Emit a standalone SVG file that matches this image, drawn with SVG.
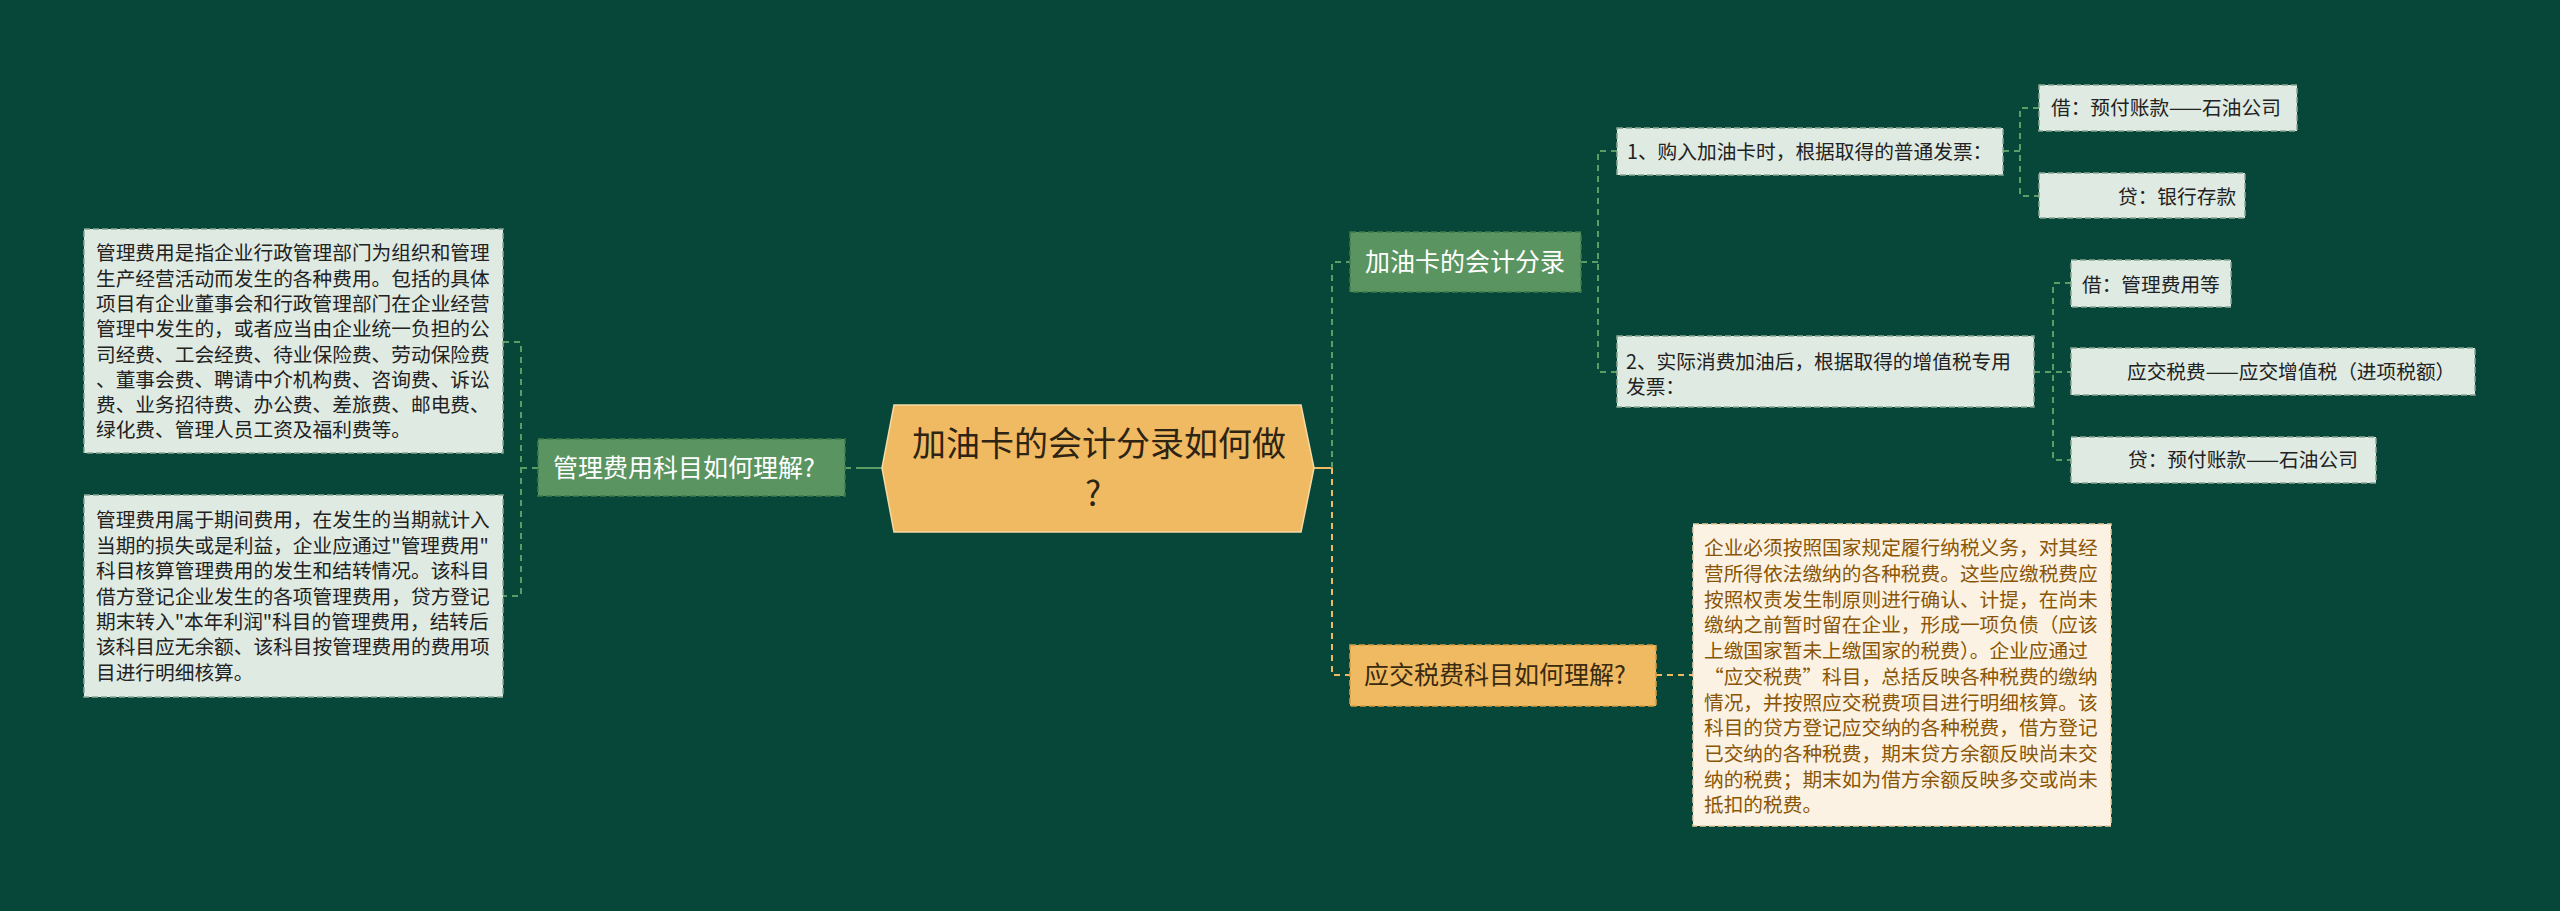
<svg xmlns="http://www.w3.org/2000/svg" width="2560" height="911" viewBox="0 0 2560 911">
<style>
text{font-family:"Noto Sans CJK SC","Noto Sans",sans-serif;}
.leaf{fill:#dfeae2;stroke:#8aa793;stroke-width:1.5;stroke-dasharray:6 3;}
.gnode{fill:#5a9460;stroke:#3f7a49;stroke-width:1.5;stroke-dasharray:6 3;}
.onode{fill:#f0ba62;stroke:#d39c40;stroke-width:1.5;stroke-dasharray:6 3;}
.cream{fill:#fcf2e3;stroke:#e6cc9e;stroke-width:1.5;stroke-dasharray:6 3;}
.t{font-size:19.7px;fill:#222;}
.tb{font-size:19.7px;fill:#8a5606;}
.tw{font-size:25px;fill:#ffffff;}
.td{font-size:25px;fill:#3a2a10;}
.cg{fill:none;stroke:#5c9d66;stroke-width:2;stroke-dasharray:6 5;}
.co{fill:none;stroke:#f0ba62;stroke-width:2;stroke-dasharray:6 5;}
</style>
<rect width="2560" height="911" fill="#07473a"/>
<g id="connectors">
  <line x1="845" y1="468" x2="858" y2="468" class="cg"/>
  <line x1="858" y1="468" x2="882" y2="468" stroke="#5c9d66" stroke-width="2"/>
  <path d="M538 468 H521 M503 342 H521 V596 H503" class="cg"/>
  <line x1="1314" y1="468" x2="1332" y2="468" stroke="#f0ba62" stroke-width="2"/>
  <path d="M1332 468 V262 H1350" class="cg"/>
  <path d="M1332 468 V675 H1350" class="co"/>
  <path d="M1581 262 H1598 M1617 151 H1598 V372 H1617" class="cg"/>
  <path d="M2003 151 H2020 M2039 108 H2020 V196 H2039" class="cg"/>
  <path d="M2034 372 H2071 M2071 283 H2053 V460 H2071" class="cg"/>
  <path d="M1656 675 H1693" class="co"/>
</g>
<g id="center">
  <polygon points="882,468 894,405 1301,405 1314,468 1301,532 894,532" fill="#f0ba62" stroke="#f7d9a3" stroke-width="1.5"/>
  <text x="1099" y="456" text-anchor="middle" style="font-size:34px;fill:#2e2414">加油卡的会计分录如何做</text>
  <text x="1093" y="506" text-anchor="middle" style="font-size:34px;fill:#2e2414">?</text>
</g>
<g id="node-guanli">
  <rect x="538" y="439" width="307" height="57" class="gnode"/>
  <text x="553" y="477" class="tw">管理费用科目如何理解?</text>
</g>
<g id="leaf-guanli-1">
  <rect x="84" y="229" width="419" height="224" class="leaf"/>
  <text class="t" x="96">
    <tspan x="96" y="260.3">管理费用是指企业行政管理部门为组织和管理</tspan>
    <tspan x="96" y="285.6">生产经营活动而发生的各种费用。包括的具体</tspan>
    <tspan x="96" y="310.9">项目有企业董事会和行政管理部门在企业经营</tspan>
    <tspan x="96" y="336.2">管理中发生的，或者应当由企业统一负担的公</tspan>
    <tspan x="96" y="361.5">司经费、工会经费、待业保险费、劳动保险费</tspan>
    <tspan x="96" y="386.8">、董事会费、聘请中介机构费、咨询费、诉讼</tspan>
    <tspan x="96" y="412.1">费、业务招待费、办公费、差旅费、邮电费、</tspan>
    <tspan x="96" y="437.4">绿化费、管理人员工资及福利费等。</tspan>
  </text>
</g>
<g id="leaf-guanli-2">
  <rect x="84" y="495" width="419" height="202" class="leaf"/>
  <text class="t" x="96">
    <tspan x="96" y="527.3">管理费用属于期间费用，在发生的当期就计入</tspan>
    <tspan x="96" y="552.7">当期的损失或是利益，企业应通过"管理费用"</tspan>
    <tspan x="96" y="578.1">科目核算管理费用的发生和结转情况。该科目</tspan>
    <tspan x="96" y="603.5">借方登记企业发生的各项管理费用，贷方登记</tspan>
    <tspan x="96" y="628.9">期末转入"本年利润"科目的管理费用，结转后</tspan>
    <tspan x="96" y="654.3">该科目应无余额、该科目按管理费用的费用项</tspan>
    <tspan x="96" y="679.7">目进行明细核算。</tspan>
  </text>
</g>
<g id="node-jiayouka">
  <rect x="1350" y="232" width="231" height="60" class="gnode"/>
  <text x="1365" y="271" class="tw">加油卡的会计分录</text>
</g>
<g id="sub-1">
  <rect x="1617" y="128" width="386" height="47" class="leaf"/>
  <text x="1627" y="159.3" class="t">1、购入加油卡时，根据取得的普通发票：</text>
</g>
<g id="sub-1-jie">
  <rect x="2039" y="85" width="258" height="46" class="leaf"/>
  <text x="2051" y="115.3" class="t">借：预付账款——石油公司</text>
</g>
<g id="sub-1-dai">
  <rect x="2039" y="173" width="206" height="45" class="leaf"/>
  <text x="2118" y="204.3" class="t">贷：银行存款</text>
</g>
<g id="sub-2">
  <rect x="1617" y="336" width="417" height="71" class="leaf"/>
  <text class="t">
    <tspan x="1626" y="369.3">2、实际消费加油后，根据取得的增值税专用</tspan>
    <tspan x="1626" y="394.3">发票：</tspan>
  </text>
</g>
<g id="sub-2-jie">
  <rect x="2071" y="260" width="160" height="47" class="leaf"/>
  <text x="2082" y="292.3" class="t">借：管理费用等</text>
</g>
<g id="sub-2-tax">
  <rect x="2071" y="348" width="404" height="47" class="leaf"/>
  <text x="2127" y="379.3" class="t">应交税费——应交增值税（进项税额）</text>
</g>
<g id="sub-2-dai">
  <rect x="2071" y="437" width="305" height="46" class="leaf"/>
  <text x="2128" y="467.3" class="t">贷：预付账款——石油公司</text>
</g>
<g id="node-yingjiao">
  <rect x="1350" y="645" width="306" height="61" class="onode"/>
  <text x="1364" y="684.3" class="td">应交税费科目如何理解?</text>
</g>
<g id="leaf-yingjiao">
  <rect x="1693" y="524" width="418" height="302" class="cream"/>
  <text class="tb">
    <tspan x="1704" y="555.3">企业必须按照国家规定履行纳税义务，对其经</tspan>
    <tspan x="1704" y="581.0">营所得依法缴纳的各种税费。这些应缴税费应</tspan>
    <tspan x="1704" y="606.7">按照权责发生制原则进行确认、计提，在尚未</tspan>
    <tspan x="1704" y="632.4">缴纳之前暂时留在企业，形成一项负债（应该</tspan>
    <tspan x="1704" y="658.1">上缴国家暂未上缴国家的税费）。企业应通过</tspan>
    <tspan x="1704" y="683.8">“应交税费”科目，总括反映各种税费的缴纳</tspan>
    <tspan x="1704" y="709.5">情况，并按照应交税费项目进行明细核算。该</tspan>
    <tspan x="1704" y="735.2">科目的贷方登记应交纳的各种税费，借方登记</tspan>
    <tspan x="1704" y="760.9">已交纳的各种税费，期末贷方余额反映尚未交</tspan>
    <tspan x="1704" y="786.6">纳的税费；期末如为借方余额反映多交或尚未</tspan>
    <tspan x="1704" y="812.3">抵扣的税费。</tspan>
  </text>
</g>
</svg>
